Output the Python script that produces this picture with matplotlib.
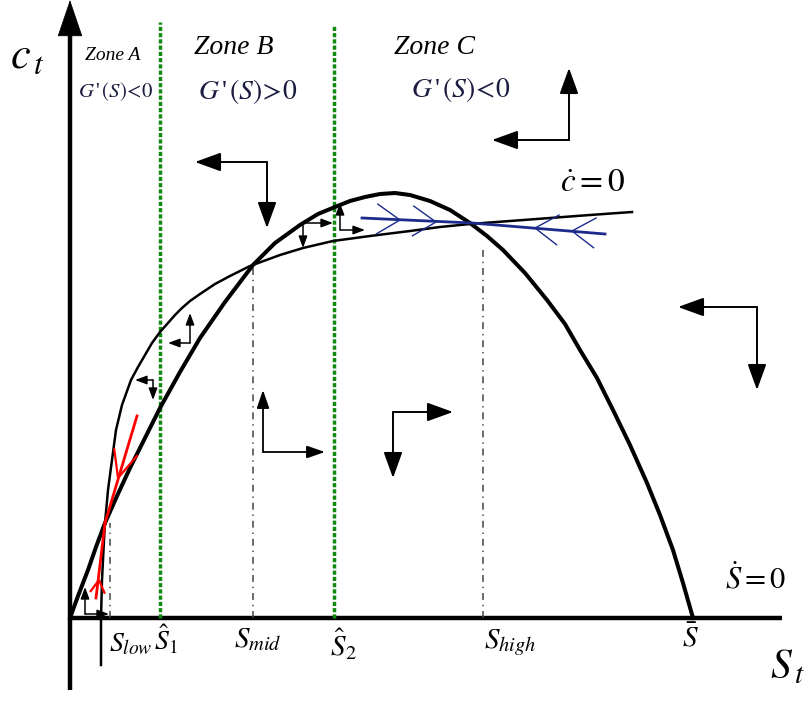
import numpy as np
import matplotlib.pyplot as plt

plt.rcParams['mathtext.fontset'] = 'stix'
plt.rcParams['font.family'] = ['Liberation Serif', 'DejaVu Serif']
plt.rcParams['lines.scale_dashes'] = False

# phase diagram in (S, c) units; origin of the axes is the lower-left corner
# growth curve G(S), i.e. S_dot = 0
g_S = [0, 8, 18, 26, 35, 47, 60, 75, 90, 110, 130, 155, 183, 205, 230, 248, 265,
       280, 295, 310, 325, 340, 360, 380, 400, 417, 433, 455, 477, 495, 510, 527,
       543, 560, 577, 590, 603, 613, 623]
g_c = [0, 22, 48, 71, 95, 122, 150, 180, 210, 246, 280, 316, 353, 375, 393, 404, 411,
       417, 421, 424, 425, 423, 417, 408, 395, 382, 368, 345, 318, 294, 268, 240,
       208, 173, 135, 103, 68, 35, 0]

# c_dot = 0 locus (starts below the axis at S_low)
cd_S = [31, 31, 32, 34, 35, 38, 42, 46, 52, 61, 68, 75, 82, 90, 98, 105, 112, 120,
        130, 145, 160, 180, 210, 233, 263, 300, 340, 370, 400, 440, 480, 520, 562]
cd_c = [-47, 0, 38, 78, 95, 128, 158, 188, 213, 238, 251, 263, 275, 286, 295, 303, 310, 317,
        324, 334, 342, 352, 363, 370, 377, 382, 387, 391, 394, 397, 400, 403, 406]

# zone boundaries S_hat_1, S_hat_2 and their top
zone_S = [90, 264]
zone_top = [596, 593]

# steady states: S_low, S_mid, S_high (dash-dot drop lines)
eq_S = [40, 183, 413]
eq_c = [95, 353, 373]

# saddle paths
blue_S = [292, 402, 535]
blue_c = [400, 395, 384]
red_up_S, red_up_c = [67, 35], [202, 95]
red_lo_S, red_lo_c = [35, 26], [95, 20]

# direction arrows: corner, two tips, head size
arrows = [
    ((197, 456), [(125, 456), (197, 390)], 'big'),
    ((499, 478), [(499, 550), (422, 478)], 'big'),
    ((687, 311), [(608, 311), (687, 228)], 'big'),
    ((193, 166), [(193, 228), (255, 166)], 'mid'),
    ((323, 206), [(383, 206), (323, 140)], 'big'),
    ((120, 275), [(120, 305), (98, 275)], 'small'),
    ((83, 238), [(65, 238), (83, 218)], 'small'),
    ((233, 395), [(233, 370), (263, 395)], 'small'),
    ((270, 388), [(270, 415), (295, 388)], 'small'),
    ((15, 4), [(15, 31), (39, 4)], 'small'),
]
head = {'big': (16, 5.8, 1.4), 'mid': (11, 3.8, 1.3), 'small': (7, 2.6, 1.1)}


def corner_arrow(ax, corner, tips, size):
    hl, hw, lw = head[size]
    for tip in tips:
        ax.annotate('', xy=tip, xytext=corner,
                    arrowprops=dict(arrowstyle=f'-|>,head_length={hl},head_width={hw}',
                                    color='black', lw=lw, shrinkA=0, shrinkB=0,
                                    mutation_scale=1))


def chevron(ax, tip, direction, length, angle, color, lw):
    d = np.array(direction, float)
    d /= np.hypot(*d)
    for sgn in (1, -1):
        a = np.radians(sgn * angle)
        rot = np.array([[np.cos(a), -np.sin(a)], [np.sin(a), np.cos(a)]])
        back = rot @ (-d)
        ax.plot([tip[0], tip[0] + length * back[0]], [tip[1], tip[1] + length * back[1]],
                color=color, lw=lw, solid_capstyle='butt')


fig = plt.figure(figsize=(8.09, 7.19), dpi=100)
ax = fig.add_axes([0, 0, 1, 1])
ax.set_xlim(-70, 739)
ax.set_ylim(-101, 618)
ax.axis('off')

# axes with arrow heads
ax.plot([0, 0], [-72, 590], color='black', lw=3.2, solid_capstyle='butt')
ax.annotate('', xy=(0, 618), xytext=(0, 560),
            arrowprops=dict(arrowstyle='-|>,head_length=25,head_width=8.5', color='black',
                            lw=0.5, shrinkA=0, shrinkB=0, mutation_scale=1))
ax.plot([-2, 712], [0, 0], color='black', lw=3.2, solid_capstyle='butt')
ax.annotate('', xy=(742, 0), xytext=(690, 0),
            arrowprops=dict(arrowstyle='-|>,head_length=23,head_width=8.5', color='black',
                            lw=0.5, shrinkA=0, shrinkB=0, mutation_scale=1))

# drop lines
dashdot = (0, (5, 3.5, 1, 3.5))
for s, c in zip(eq_S, eq_c):
    ax.plot([s, s], [0, c], color='#444444', lw=1.1, linestyle=dashdot)

# zone boundaries
for s, top in zip(zone_S, zone_top):
    ax.plot([s, s], [0, top], color='#128a12', lw=2.5, linestyle=(0, (3, 1.5)))

# nullclines
ax.plot(g_S, g_c, color='black', lw=2.9, solid_joinstyle='round')
ax.plot(cd_S, cd_c, color='black', lw=1.8, solid_joinstyle='round')

# saddle paths
ax.plot(blue_S, blue_c, color='#1c2a8c', lw=2.0)
for tip in [(330, 398), (366, 396)]:
    chevron(ax, tip, (110, -5), 28, 33, '#1c2a8c', 1.0)
for tip in [(465, 390), (502, 387)]:
    chevron(ax, tip, (-133, 11), 28, 33, '#1c2a8c', 1.0)

ax.plot(red_up_S, red_up_c, color='red', lw=2.0)
chevron(ax, (48, 140), (-32, -107), 30, 24, 'red', 1.6)
ax.plot(red_lo_S, red_lo_c, color='red', lw=2.0)
chevron(ax, (29, 38), (9, 75), 15, 30, 'red', 1.6)

for corner, tips, size in arrows:
    corner_arrow(ax, corner, tips, size)

# labels
navy = '#1c1c40'
ax.text(-43, 561, r'$c_{\,t}$', fontsize=32, ha='center', va='center')
ax.text(43, 563, 'Zone A', fontsize=14, style='italic', ha='center', va='center')
ax.text(46, 526, r"$G\,$'$\,(S)\!<\!0$", fontsize=15, color=navy, ha='center', va='center')
ax.text(164, 570, 'Zone B', fontsize=20, style='italic', ha='center', va='center')
ax.text(178, 526, r"$G\,$'$\,(S)\!>\!0$", fontsize=20, color=navy, ha='center', va='center')
ax.text(365, 570, 'Zone C', fontsize=20, style='italic', ha='center', va='center')
ax.text(391, 528, r"$G\,$'$\,(S)\!<\!0$", fontsize=20, color=navy, ha='center', va='center')
ax.text(523, 434, r'$\dot{c}=0$', fontsize=24, ha='center', va='center')
ax.text(686, 38, r'$\dot{S}=0$', fontsize=22, ha='center', va='center')
ax.text(700, -50, r'$S_{\,t}$', fontsize=30, ha='left', va='center')

ax.text(61, -27, r'$S_{low}$', fontsize=20, ha='center', va='center')
ax.text(96, -22, r'$\hat{S}_1$', fontsize=20, ha='center', va='center')
ax.text(188, -22, r'$S_{mid}$', fontsize=21, ha='center', va='center')
ax.text(273, -27, r'$\hat{S}_2$', fontsize=21, ha='center', va='center')
ax.text(440, -25, r'$S_{high}$', fontsize=21, ha='center', va='center')
ax.text(620, -20, r'$\bar{S}$', fontsize=21, ha='center', va='center')

fig.savefig('out.png', dpi=100)
